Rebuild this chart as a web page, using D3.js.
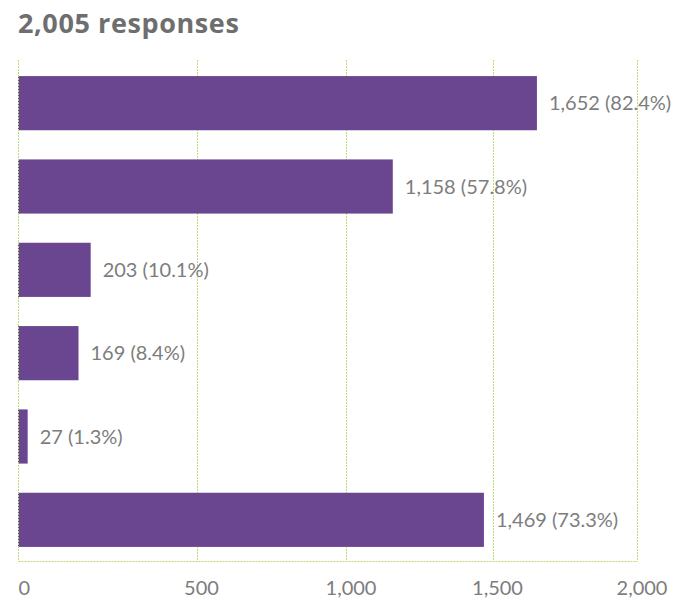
<!DOCTYPE html>
<html>
<head>
<meta charset="utf-8">
<script src="https://cdn.jsdelivr.net/npm/d3@7"></script>
<style>
  html, body { margin: 0; padding: 0; background: #fff; }
  svg { display: block; }
</style>
</head>
<body>
<svg id="chart" width="680" height="600"></svg>
<script>
// Survey answers: counts and shares of 2,005 responses
const title = "2,005 responses";
const counts = [1652, 1158, 203, 169, 27, 1469];
const shares = [82.4, 57.8, 10.1, 8.4, 1.3, 73.3];
const tickValues = [0, 500, 1000, 1500, 2000];

const svg = d3.select("#chart");
const plotTop = 60, plotBottom = 561.5;

// value axis, one segment per gridline interval
const x = d3.scaleLinear()
  .domain(tickValues)
  .range([18, 197, 346.5, 493, 637.5]);

const y = d3.scaleBand()
  .domain(d3.range(counts.length))
  .range([plotTop + 1.5, plotBottom])
  .paddingInner(0.35)
  .paddingOuter(0.175);

const fmt = d3.format(",");
const grid = "#bcdc72";
const font = "Lato, 'Open Sans', sans-serif";
const crisp = v => Math.floor(v) + 0.5;

// title
svg.append("text")
  .attr("x", 18).attr("y", 32.5)
  .attr("font-family", "'Open Sans', sans-serif")
  .attr("font-weight", 700)
  .attr("font-size", 27)
  .attr("letter-spacing", 0.6)
  .attr("fill", "#6e6e6e")
  .text(title);

const drawGrid = (g, values) => g.selectAll("line")
  .data(values)
  .join("line")
  .attr("x1", d => crisp(x(d))).attr("x2", d => crisp(x(d)))
  .attr("y1", plotTop).attr("y2", plotBottom)
  .attr("stroke", grid)
  .attr("stroke-width", 1)
  .attr("stroke-dasharray", "2,1");

// gridlines behind the bars
svg.append("g").call(drawGrid, tickValues.filter(d => d !== 0));

// bars
svg.append("g").selectAll("rect")
  .data(counts)
  .join("rect")
  .attr("x", x(0))
  .attr("y", (d, i) => y(i))
  .attr("width", d => x(d) - x(0))
  .attr("height", y.bandwidth())
  .attr("fill", "#6b4690");

// zero line over the bar starts
svg.append("g").call(drawGrid, [0]);

// baseline
svg.append("line")
  .attr("x1", crisp(x(0))).attr("x2", crisp(x(2000)))
  .attr("y1", plotBottom).attr("y2", plotBottom)
  .attr("stroke", grid)
  .attr("stroke-width", 1)
  .attr("stroke-dasharray", "2,1");

// value labels
svg.append("g").selectAll("text")
  .data(counts)
  .join("text")
  .attr("x", d => x(d) + 12)
  .attr("y", (d, i) => y(i) + y.bandwidth() / 2)
  .attr("dy", "0.36em")
  .attr("font-family", font)
  .attr("font-size", 20)
  .attr("fill", "#7d7d7d")
  .text((d, i) => `${fmt(d)} (${shares[i].toFixed(1)}%)`);

// x axis labels
const axis = d3.axisBottom(x)
  .tickValues(tickValues)
  .tickFormat(fmt)
  .tickSize(0)
  .tickPadding(19);

const gAxis = svg.append("g")
  .attr("transform", `translate(0,${plotBottom})`)
  .call(axis);
gAxis.select(".domain").remove();
gAxis.selectAll("text")
  .attr("font-family", font)
  .attr("font-size", 20)
  .attr("fill", "#7d7d7d")
  .attr("dx", d => d === 0 ? 0 : 4)
  .attr("text-anchor", d => d === 0 ? "start" : "middle");
</script>
</body>
</html>
